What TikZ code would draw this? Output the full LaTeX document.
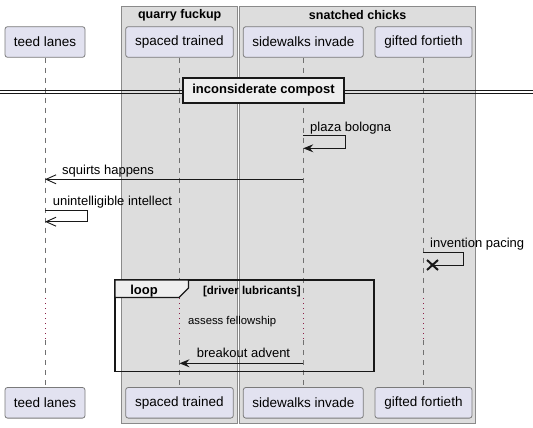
\documentclass[tikz,border=0pt]{standalone}
\usepackage{fontspec}
\setmainfont{Liberation Sans}
\usetikzlibrary{arrows.meta,calc}
\definecolor{partfill}{HTML}{E2E2F0}
\definecolor{partdraw}{HTML}{7A7A7A}
\definecolor{grpfill}{HTML}{DDDDDD}
\definecolor{grpdraw}{HTML}{8A8A8A}
\definecolor{ink}{HTML}{181818}
\definecolor{lifegray}{HTML}{707070}
\definecolor{tabfill}{HTML}{EEEEEE}
\definecolor{delaydot}{HTML}{8C1E46}
\tikzset{
  part/.style={draw=partdraw, line width=0.8pt, fill=partfill, rounded corners=2.5pt,
    minimum height=30.6pt, inner sep=0pt, font=\fontsize{13.5}{15}\selectfont},
  grp/.style={draw=grpdraw, line width=0.8pt, fill=grpfill},
  grptitle/.style={font=\bfseries\fontsize{12.5}{14}\selectfont, inner sep=0pt},
  lifeline/.style={draw=lifegray, line width=0.7pt, dash pattern=on 5pt off 5pt},
  delayline/.style={draw=delaydot, line width=0.8pt, dash pattern=on 1pt off 4pt},
  msg/.style={draw=ink, line width=0.9pt},
  filledtip/.style={-{Stealth[length=10pt,width=8pt,inset=3.5pt]}},
  opentip/.style={-{Straight Barb[length=10pt,width=9pt,line width=0.9pt]}},
  msglabel/.style={anchor=base west, inner sep=0pt, font=\fontsize{13}{15}\selectfont},
  smalllabel/.style={anchor=base west, inner sep=0pt, font=\fontsize{11.3}{13}\selectfont},
}
\begin{document}
\begin{tikzpicture}[x=1pt,y=-1pt]
\useasboundingbox (0,0) rectangle (533,428);
% groups
\path[grp] (121.7,6) rectangle (237.7,423.3);
\path[grp] (239.5,6) rectangle (475.7,423.3);
\node[grptitle] (g1) at (179.7,15) {quarry fuckup};
\node[grptitle] (g2) at (357.6,15) {snatched chicks};
% participants top
\node[part, minimum width=80pt] (tl) at (45,42) {teed lanes};
\node[part, minimum width=107.6pt] (st) at (179.5,42) {spaced trained};
\node[part, minimum width=120pt] (sw) at (303.3,42) {sidewalks invade};
\node[part, minimum width=97pt] (gf) at (423.5,42) {gifted fortieth};
% participants bottom
\node[part, minimum width=80pt] (tlb) at (45,402.8) {teed lanes};
\node[part, minimum width=107.6pt] (stb) at (179.5,402.8) {spaced trained};
\node[part, minimum width=120pt] (swb) at (303.3,402.8) {sidewalks invade};
\node[part, minimum width=97pt] (gfb) at (423.5,402.8) {gifted fortieth};
% lifelines with delay
\foreach \p/\x in {tl/45,st/179.5,sw/303.3,gf/423.5}{
  \coordinate (\p D1) at (\x,298);
  \coordinate (\p D2) at (\x,340);
  \draw[lifeline] (\p.south) -- (\p D1);
  \draw[delayline] (\p D1) -- (\p D2);
  \draw[lifeline] (\p D2) -- (\p b.north);
}
% divider
\draw[ink, line width=0.9pt] (0,90) -- (533,90) (0,93) -- (533,93);
\node[draw=ink, line width=1.8pt, fill=tabfill, minimum width=161pt, minimum height=25pt,
  inner sep=0pt, font=\bfseries\fontsize{13}{15}\selectfont] (div) at (263.5,90.5) {inconsiderate compost};
% message 1: plaza bologna
\node[msglabel] (m1) at (310,131) {plaza bologna};
\coordinate (a1) at (303.3,135.7);
\coordinate (a1e) at (303.3,148.3);
\draw[msg, filledtip] (a1) -- (345,135.7) |- (a1e);
% message 2: squirts happens
\node[msglabel] (m2) at (62,174.3) {squirts happens};
\coordinate (a2s) at (303.3,179.3);
\coordinate (a2e) at (45,179.3);
\draw[msg, opentip] (a2s) -- (a2e);
% message 3: unintelligible intellect
\node[msglabel] (m3) at (52.7,205.7) {unintelligible intellect};
\coordinate (a3) at (45,210);
\coordinate (a3e) at (45,221.7);
\draw[msg, opentip] (a3) -- (87.7,210) |- (a3e);
% message 4: invention pacing
\node[msglabel] (m4) at (430,247.5) {invention pacing};
\coordinate (a4) at (423.3,252.7);
\coordinate (a4e) at (432.5,265);
\draw[msg] (a4) -- (463,252.7) |- (a4e);
\draw[ink, line width=2pt] ($(a4e)+(-5.5,-5)$) -- ($(a4e)+(5.5,5)$)
  ($(a4e)+(-5.5,5)$) -- ($(a4e)+(5.5,-5)$);
% loop frame
\draw[ink, line width=1.7pt] (115,280) rectangle (374,371.5);
\draw[ink, line width=1.2pt, fill=tabfill] (115,280) -- (188.5,280) -- (188.5,288) -- (179,297.5) -- (115,297.5) -- cycle;
\node[inner sep=0pt, font=\bfseries\fontsize{13}{15}\selectfont, anchor=base] (lp) at (144,294.5) {loop};
\node[inner sep=0pt, font=\bfseries\fontsize{11.5}{13}\selectfont, anchor=base east] (lc) at (301,294) {[driver lubricants]};
% delay text
\node[smalllabel] (dl) at (188,324) {assess fellowship};
% message 5: breakout advent
\node[msglabel] (m5) at (196.7,357.5) {breakout advent};
\coordinate (a5s) at (303.3,363.3);
\coordinate (a5e) at (179.5,363.3);
\draw[msg, filledtip] (a5s) -- (a5e);
\end{tikzpicture}
\end{document}
